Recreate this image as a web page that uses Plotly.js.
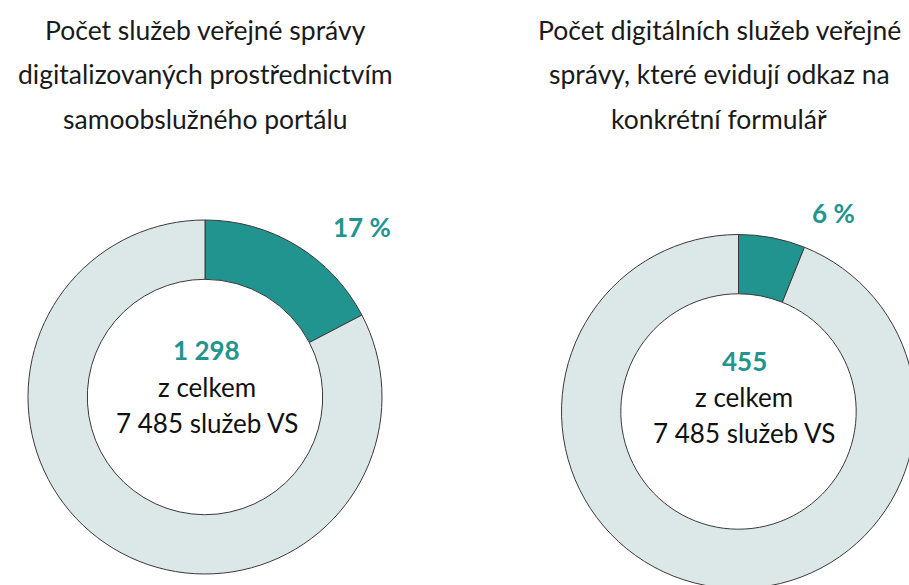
<!DOCTYPE html>
<html><head><meta charset="utf-8">
<script src="https://cdn.plot.ly/plotly-3.0.1.min.js"></script>
<style>html,body{margin:0;padding:0;overflow:hidden;background:#fff}#c{width:930px;height:600px}</style>
</head><body><div id="c"></div>
<script>
const total = 7485;
const labels = ['digitalizované', 'ostatní'];
const portalCount = 1298;
const formCount = 455;
const leftTitle = ['Počet služeb veřejné správy', 'digitalizovaných prostřednictvím', 'samoobslužného portálu'];
const rightTitle = ['Počet digitálních služeb veřejné', 'správy, které evidují odkaz na', 'konkrétní formulář'];
const centerLines = ['z celkem', '7 485 služeb VS'];

const W = 930, H = 600;
const px = x => x / W, py = y => 1 - y / H;
const teal = '#21948f', light = '#dce8e8', edge = '#3a3a3a';
const FONT = 'Lato, "Open Sans", sans-serif';

function donut(count, x0, x1, yTop, yBot) {
  return {
    type: 'pie', values: [count, total - count], labels: labels,
    hole: 0.665, sort: false, direction: 'clockwise', rotation: 0,
    textinfo: 'none', hoverinfo: 'skip', showlegend: false,
    marker: {colors: [teal, light], line: {color: edge, width: 1}},
    domain: {x: [px(x0), px(x1)], y: [py(yBot), py(yTop)]}
  };
}

const data = [
  donut(portalCount, 28, 382, 220, 574),
  donut(formCount, 561.5, 915.5, 234.5, 588.5)
];

const ann = [];
function t(text, x, y, size, color, bold) {
  ann.push({text: bold ? '<b>' + text + '</b>' : text, x: px(x), y: py(y), xref: 'paper', yref: 'paper',
    showarrow: false, xanchor: 'center', yanchor: 'middle',
    font: {family: FONT, size: size, color: color}});
}
leftTitle.forEach((s, i) => t(s, 205, 30 + i * 44.5, 26.5, '#1a1a1a'));
rightTitle.forEach((s, i) => t(s, 719, 30 + i * 44.5, 26.5, '#1a1a1a'));
t(Math.round(portalCount / total * 100) + ' %', 362, 227, 26, teal, true);
t(Math.round(formCount / total * 100) + ' %', 833, 213, 26, teal, true);
t(portalCount.toLocaleString('cs-CZ').replace(/\s/g, ' '), 206, 350, 26, teal, true);
centerLines.forEach((s, i) => t(s, 207, 387 + i * 36, 26, '#111'));
t(String(formCount), 744, 361, 26, teal, true);
centerLines.forEach((s, i) => t(s, 744, 397 + i * 36, 26, '#111'));

Plotly.newPlot('c', data, {
  width: W, height: H, margin: {l: 0, r: 0, t: 0, b: 0},
  paper_bgcolor: '#fff', annotations: ann
}, {displayModeBar: false, staticPlot: true});
</script></body></html>
